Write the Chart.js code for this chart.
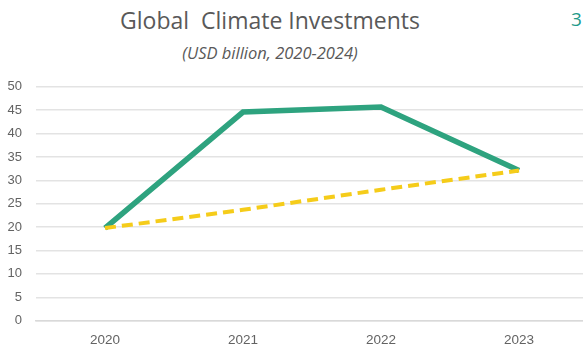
<!DOCTYPE html>
<html>
<head>
<meta charset="utf-8">
<script src="https://cdn.jsdelivr.net/npm/chart.js"></script>
<style>
  html, body { margin:0; padding:0; background:#fff; width:583px; height:349px; overflow:hidden; position:relative; }
  .title { position:absolute; left:70px; width:400px; text-align:center; color:#595959; font-family:"Open Sans", sans-serif; white-space:pre; }
  #t1 { top:4px; font-size:23px; }
  #t2 { top:41px; font-size:16.5px; font-style:italic; }
  #pg { position:absolute; left:571px; top:6px; font-family:"Open Sans", sans-serif; font-size:19px; color:#1f9a8a; }
  #wrap { position:absolute; left:0; top:65px; width:600px; height:284px; }
</style>
</head>
<body>
<div class="title" id="t1">Global  Climate Investments</div>
<div class="title" id="t2">(USD billion, 2020-2024)</div>
<div id="pg">3</div>
<div id="wrap"><canvas id="c" width="600" height="284"></canvas></div>
<script>
// --- data ---
const years = ['2020', '2021', '2022', '2023'];
const investments = [19.8, 44.6, 45.7, 32.1];
const trend = [19.8, 23.7, 28.0, 32.1];

const ctx = document.getElementById('c').getContext('2d');
new Chart(ctx, {
  type: 'line',
  data: {
    labels: years,
    datasets: [
      {label:'Trend', data:trend, borderColor:'#f5cc1a', borderWidth:4, borderDash:[11,6], pointRadius:0, tension:0, fill:false},
      {label:'Investments', data:investments, borderColor:'#2ea37f', borderWidth:5.5, pointRadius:0, tension:0, fill:false, borderJoinStyle:'miter'}
    ]
  },
  options: {
    responsive:false, animation:false,
    layout:{padding:{top:8.5, right:12, left:0, bottom:0}},
    plugins:{legend:{display:false}, tooltip:{enabled:false}},
    scales:{
      x:{
        offset:true,
        grid:{display:false, drawTicks:false},
        border:{display:true, color:'#d9d9d9', width:1.5},
        ticks:{color:'#636363', font:{family:'"Liberation Sans", Arial, sans-serif', size:13.5}, padding:11},
        afterFit: s => { s.height = 28.3; }
      },
      y:{
        min:0, max:50,
        grid:{color:'#e3e3e3', lineWidth:1.5, drawTicks:false},
        border:{display:false},
        ticks:{stepSize:5, color:'#636363', font:{family:'"Liberation Sans", Arial, sans-serif', size:13}, padding:14},
        afterFit: s => { s.width = 36; }
      }
    }
  }
});
</script>
</body>
</html>
